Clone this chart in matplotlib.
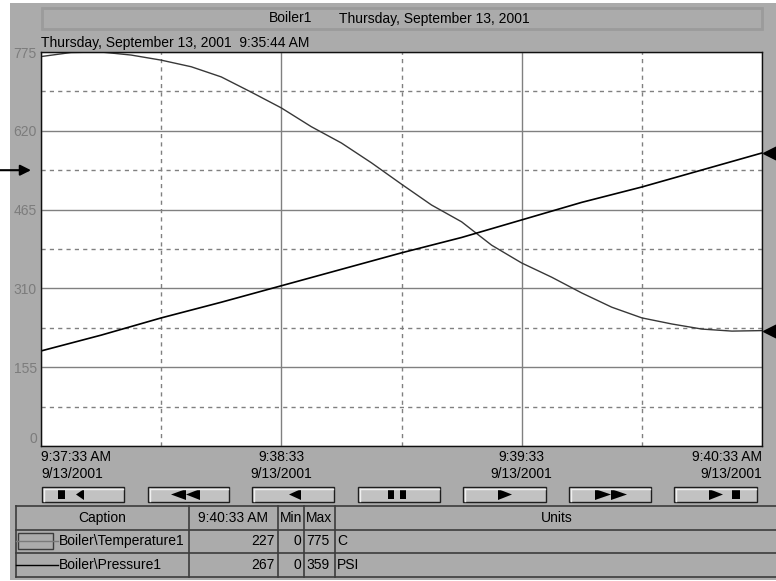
import numpy as np
import matplotlib.pyplot as plt
from matplotlib.patches import Rectangle, Polygon

plt.rcParams['font.family'] = ['Liberation Sans', 'DejaVu Sans']
plt.rcParams['font.size'] = 10

# trend samples, seconds after 9:37:33 AM
temp_t = np.arange(0, 180.1, 7.5)
temp_c = [766, 774, 775, 769, 759, 746, 726, 696, 665, 628, 596, 557, 515,
          474, 441, 395, 360, 332, 301, 273, 252, 240, 230, 226, 227]
pres_t = np.arange(0, 180.1, 15)
pres_psi = [86.6, 101, 116.7, 131, 146, 161, 176, 190, 206, 222, 236,
            251.5, 267]

temp_range = (0, 775)
pres_range = (0, 359)

x_ticks = [0, 60, 120, 180]
x_labels = ['9:37:33 AM\n9/13/2001', '9:38:33\n9/13/2001',
            '9:39:33\n9/13/2001', '9:40:33 AM\n9/13/2001']
y_ticks = [0, 155, 310, 465, 620, 775]
ref_level = 542.5

captions = ['Boiler\\Temperature1', 'Boiler\\Pressure1']
current = [227, 267]
mins = [0, 0]
maxs = [775, 359]
units = ['C', 'PSI']

PANEL = '#ababab'
GRID = '#808080'

fig = plt.figure(figsize=(7.76, 5.81), dpi=100)
fig.patch.set_facecolor('white')

# pixel-space layer for the window chrome
bg = fig.add_axes([0, 0, 1, 1], zorder=0)
bg.set_xlim(0, 776)
bg.set_ylim(581, 0)
bg.axis('off')
bg.add_patch(Rectangle((10, 3), 766, 577, fc=PANEL, ec='none'))

# header strip
bg.add_patch(Rectangle((42, 8), 720, 21, fc=PANEL, ec='#9b9b9b', lw=2))
bg.text(269, 18.5, 'Boiler1', va='center', ha='left')
bg.text(339, 18.5, 'Thursday, September 13, 2001', va='center', ha='left')
bg.text(41, 43, 'Thursday, September 13, 2001  9:35:44 AM', va='center', ha='left')

# trend area
W, H = 776, 581
ax = fig.add_axes([41 / W, (H - 446) / H, 721 / W, 394 / H], zorder=1)
ax.set_facecolor('white')
ax.set_xlim(0, 180)
ax.set_ylim(*temp_range)
ax.set_xticks(x_ticks)
ax.set_xticklabels(x_labels)
ax.set_xticks([30, 90, 150], minor=True)
ax.set_yticks(y_ticks)
ax.set_yticks(np.arange(77.5, 775, 155), minor=True)
ax.grid(which='major', color=GRID, lw=1, ls='-')
ax.grid(which='minor', color=GRID, lw=1, ls=(0, (3, 3)))
ax.tick_params(which='both', length=0)
ax.tick_params(axis='x', pad=3, labelcolor='black')
ax.tick_params(axis='y', pad=3, labelcolor='#7c7c7c')
for spine in ax.spines.values():
    spine.set_color('#101010')
    spine.set_linewidth(1)

xl = ax.get_xticklabels()
for lab in xl:
    lab.set_linespacing(1.3)
xl[0].set_horizontalalignment('left')
xl[-1].set_horizontalalignment('right')
ax.get_yticklabels()[0].set_verticalalignment('bottom')

ax.plot(temp_t, temp_c, color='#383838', lw=1)
pres_scaled = np.array(pres_psi) * temp_range[1] / pres_range[1]
ax.plot(pres_t, pres_scaled, color='black', lw=1.2)

# current-value pointers on the right edge
yx = ax.get_yaxis_transform()
for v in [temp_c[-1], pres_scaled[-1]]:
    ax.plot([1 + 8 / 721], [v], marker='<', ms=10, color='black',
            transform=yx, clip_on=False)

# reference arrow on the left
ax.annotate('', xy=(-10 / 721, ref_level), xycoords=yx,
            xytext=(-41 / 721, ref_level), textcoords=yx,
            arrowprops=dict(arrowstyle='-|>', color='black', lw=1.5,
                            mutation_scale=16, shrinkA=0, shrinkB=0),
            annotation_clip=False)

# playback buttons
buttons = [(42, 124), (148, 229), (252, 334), (358, 440),
           (463, 546), (569, 651), (674, 757)]
for x0, x1 in buttons:
    bg.add_patch(Rectangle((x0, 487), x1 - x0, 15, fc='#c2c2c2', ec='#1e1e1e', lw=1))
    bg.plot([x0 + 1.5, x1 - 1.5], [488.5, 488.5], color='#f0f0f0', lw=1)
    bg.plot([x0 + 1.5, x0 + 1.5], [488.5, 500.5], color='#f0f0f0', lw=1)


def tri_left(tip, base):
    bg.add_patch(Polygon([(tip, 494.5), (base, 489), (base, 500)], fc='black', ec='none'))


def tri_right(base, tip):
    bg.add_patch(Polygon([(tip, 494.5), (base, 489), (base, 500)], fc='black', ec='none'))


def block(x0, x1):
    bg.add_patch(Rectangle((x0, 490), x1 - x0, 9, fc='black', ec='none'))


block(58, 65); tri_left(76, 84)
tri_left(171, 186); tri_left(186, 200)
tri_left(289, 301)
block(388, 394); block(400, 406)
tri_right(498, 512)
tri_right(595, 611); tri_right(611, 627)
tri_right(709, 723); block(732, 740)

# legend table
LINE = '#3c3c3c'
rows_y = [506, 529.5, 553, 576.5]
for y in rows_y:
    bg.plot([15.5, 776], [y, y], color=LINE, lw=1.2)
for x in [16, 189, 278, 304, 335]:
    bg.plot([x, x], [rows_y[0], rows_y[-1]], color=LINE, lw=1.2)

hy = (rows_y[0] + rows_y[1]) / 2
bg.text(102, hy, 'Caption', ha='center', va='center')
bg.text(233, hy, '9:40:33 AM', ha='center', va='center')
bg.text(291, hy, 'Min', ha='center', va='center')
bg.text(319, hy, 'Max', ha='center', va='center')
bg.text(557, hy, 'Units', ha='center', va='center')

for i in range(2):
    y = (rows_y[i + 1] + rows_y[i + 2]) / 2
    bg.text(59, y, captions[i], ha='left', va='center')
    bg.text(275, y, str(current[i]), ha='right', va='center')
    bg.text(301, y, str(mins[i]), ha='right', va='center')
    bg.text(306, y, str(maxs[i]), ha='left', va='center')
    bg.text(337, y, units[i], ha='left', va='center')

# line swatches in the caption column
y1 = (rows_y[1] + rows_y[2]) / 2
bg.add_patch(Rectangle((18, y1 - 8), 35, 16, fc='none', ec=LINE, lw=1))
bg.plot([16, 58], [y1, y1], color='#7a7a7a', lw=1)
y2 = (rows_y[2] + rows_y[3]) / 2
bg.plot([16, 58], [y2, y2], color='black', lw=1)

fig.savefig('out.png', dpi=100)
